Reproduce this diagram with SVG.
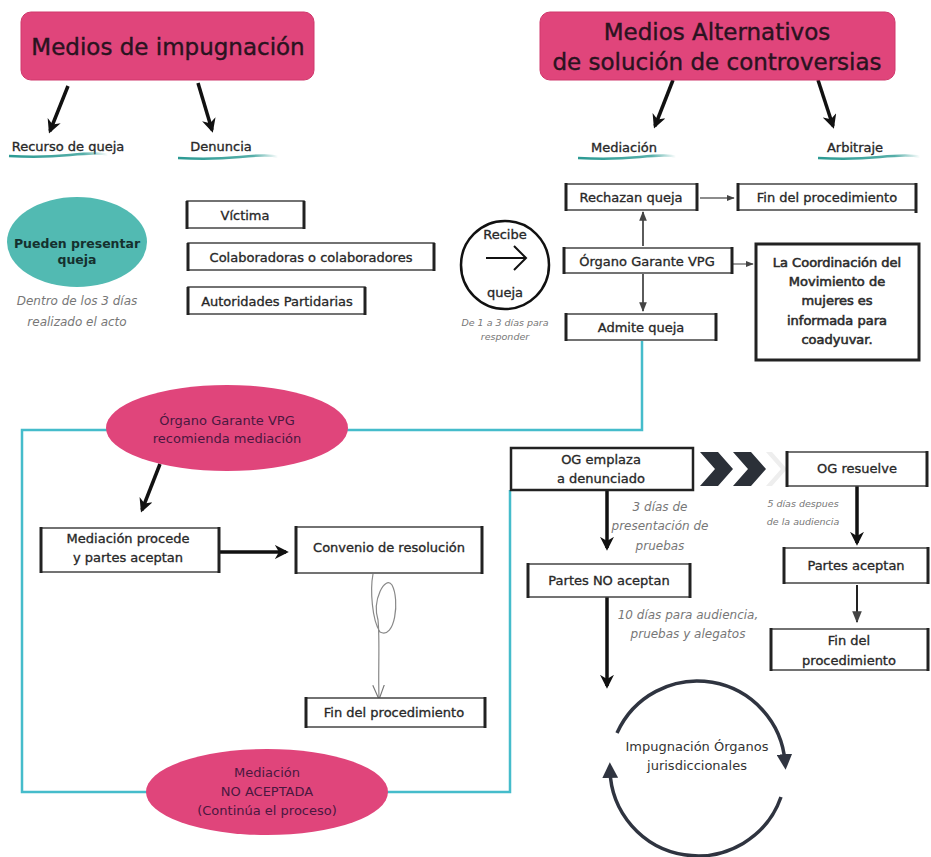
<svg xmlns="http://www.w3.org/2000/svg" width="931" height="857" viewBox="0 0 931 857">
<defs>
<style>
text{font-family:"DejaVu Sans","Liberation Sans",sans-serif;fill:#222;}
.t{font-size:13px;text-anchor:middle;}
.title{font-size:23px;text-anchor:middle;fill:#2a1320;stroke:#2a1320;stroke-width:0.4;}
.it{font-style:italic;fill:#777;font-size:12px;text-anchor:middle;}
.sm{font-size:9.5px;}
.pk{fill:#4a1840;}
.md{stroke:#333;stroke-width:0.35;}
.box{fill:#fff;stroke:#444;stroke-width:1.5;}
.side{stroke:#222;stroke-width:3;}
.thick{stroke:#111;stroke-width:3.5;fill:none;}
.thin{stroke:#666;stroke-width:1.3;fill:none;}
.cy{stroke:#45bccb;stroke-width:2.5;fill:none;}
.cyc{stroke:#2f3440;stroke-width:3.5;fill:none;}
</style>
<marker id="ah" viewBox="0 0 10 10" refX="8" refY="5" markerWidth="4" markerHeight="4" orient="auto-start-reverse"><path d="M0,0 L10,5 L0,10 L3,5 Z" fill="#111"/></marker>
<marker id="ahs" viewBox="0 0 10 10" refX="9" refY="5" markerWidth="6" markerHeight="6" orient="auto"><path d="M0,1 L10,5 L0,9 Z" fill="#444"/></marker>
<marker id="ahc" viewBox="0 0 10 10" refX="5" refY="5" markerWidth="4.5" markerHeight="4.5" orient="auto"><path d="M0,0 L10,5 L0,10 Z" fill="#2f3440"/></marker>
<marker id="ahv" viewBox="0 0 10 10" refX="9" refY="5" markerWidth="12" markerHeight="12" orient="auto"><path d="M0,1 L10,5 L0,9" fill="none" stroke="#777" stroke-width="0.8"/></marker>
<linearGradient id="fade" x1="0" x2="1" y1="0" y2="0"><stop offset="0" stop-color="#2b9a93"/><stop offset="0.75" stop-color="#2b9a93" stop-opacity="0.8"/><stop offset="1" stop-color="#2b9a93" stop-opacity="0"/></linearGradient>
</defs>
<rect width="931" height="857" fill="#fff"/>

<g id="connectors">
<path class="cy" d="M642,341 V430 H22 V792 H510 V490"/>
<line class="thick" x1="68" y1="86" x2="50" y2="131" marker-end="url(#ah)"/>
<line class="thick" x1="198" y1="83" x2="212" y2="130" marker-end="url(#ah)"/>
<line class="thick" x1="673" y1="80" x2="655" y2="126" marker-end="url(#ah)"/>
<line class="thick" x1="818" y1="80" x2="833" y2="126" marker-end="url(#ah)"/>
<line class="thin" x1="700" y1="198" x2="734" y2="198" marker-end="url(#ahs)"/>
<line class="thin" x1="733" y1="264" x2="753" y2="264" marker-end="url(#ahs)"/>
<line stroke="#333" stroke-width="1.6" x1="643" y1="246" x2="643" y2="212" marker-end="url(#ahs)"/>
<line stroke="#333" stroke-width="1.6" x1="643" y1="274" x2="643" y2="311" marker-end="url(#ahs)"/>
<line class="thick" x1="160" y1="464" x2="142" y2="510" marker-end="url(#ah)"/>
<line class="thick" x1="220" y1="552" x2="286" y2="552" marker-end="url(#ah)"/>
<path d="M373,574 C370,590 372,620 380,632 C395,640 400,600 392,585 C385,575 372,600 378,620 C380,640 378,670 379,698" fill="none" stroke="#888" stroke-width="1.2" marker-end="url(#ahv)"/>
<line class="thick" x1="607" y1="490" x2="607" y2="548" marker-end="url(#ah)"/>
<line class="thick" x1="607" y1="597" x2="607" y2="686" marker-end="url(#ah)"/>
<line class="thick" x1="857" y1="486" x2="857" y2="543" marker-end="url(#ah)"/>
<line stroke="#222" stroke-width="2" x1="857" y1="585" x2="857" y2="622" marker-end="url(#ahs)"/>
<path d="M700,486 H718 L733,469 L718,452 H700 L715,469 Z M733,486 H751 L766,469 L751,452 H733 L748,469 Z" fill="#2b3038"/>
<path d="M766,486 H772 L787,469 L772,452 H766 L781,469 Z" fill="#eee"/>
</g>

<g id="title1"><rect x="21" y="12" width="293" height="68" rx="10" fill="#e0457b" stroke="#d0386c"/><text class="title" x="168" y="55">Medios de impugnación</text></g>
<g id="title2"><rect x="540" y="12" width="355" height="68" rx="10" fill="#e0457b" stroke="#d0386c"/><text class="title" x="717" y="40">Medios Alternativos</text><text class="title" x="717" y="70">de solución de controversias</text></g>

<g id="recurso"><text class="t md" x="68" y="151">Recurso de queja</text><path d="M9,156 Q40,158 70,155 T108,155" stroke="url(#fade)" stroke-width="2.5" fill="none"/></g>
<g id="denuncia"><text class="t md" x="221" y="151">Denuncia</text><path d="M178,158 Q210,160 240,157 T278,157" stroke="url(#fade)" stroke-width="2.5" fill="none"/></g>
<g id="mediacion"><text class="t md" x="624" y="152">Mediación</text><path d="M578,158 Q610,160 640,157 T676,157" stroke="url(#fade)" stroke-width="2.5" fill="none"/></g>
<g id="arbitraje"><text class="t md" x="855" y="152">Arbitraje</text><path d="M818,158 Q850,160 880,157 T920,157" stroke="url(#fade)" stroke-width="2.5" fill="none"/></g>

<g id="pueden"><ellipse cx="77" cy="242" rx="70" ry="45" fill="#52bab2"/><text class="t" x="77" y="248" style="font-weight:bold;fill:#15302e;font-size:12.5px">Pueden presentar</text><text class="t" x="77" y="264" style="font-weight:bold;fill:#15302e;font-size:12.5px">queja</text>
<text class="it" x="77" y="305">Dentro de los 3 días</text><text class="it" x="77" y="326">realizado el acto</text></g>

<g id="victima"><rect class="box" x="187" y="201" width="117" height="27"/><line class="side" x1="187" y1="201" x2="187" y2="229"/><line class="side" x1="304" y1="201" x2="304" y2="229"/><text class="t md" x="245" y="220">Víctima</text></g>
<g id="colab"><rect class="box" x="188" y="243" width="246" height="27"/><line class="side" x1="188" y1="243" x2="188" y2="271"/><line class="side" x1="434" y1="243" x2="434" y2="271"/><text class="t md" x="311" y="262">Colaboradoras o colaboradores</text></g>
<g id="autoridades"><rect class="box" x="188" y="287" width="177" height="27"/><line class="side" x1="188" y1="287" x2="188" y2="315"/><line class="side" x1="365" y1="287" x2="365" y2="315"/><text class="t md" x="277" y="306">Autoridades Partidarias</text></g>

<g id="recibe"><circle cx="505" cy="265" r="44" fill="#fff" stroke="#111" stroke-width="2.5"/><text class="t md" x="505" y="239">Recibe</text><text class="t md" x="505" y="297">queja</text><path d="M486,258 H526 M514,246 L526,258 L514,270" fill="none" stroke="#111" stroke-width="2"/>
<text class="it sm" x="505" y="326">De 1 a 3 días para</text><text class="it sm" x="505" y="340">responder</text></g>

<g id="rechazan"><rect class="box" x="566" y="184" width="131" height="26"/><line class="side" x1="566" y1="183" x2="566" y2="211"/><line class="side" x1="697" y1="183" x2="697" y2="211"/><text class="t md" x="631" y="202">Rechazan queja</text></g>
<g id="fin1"><rect class="box" x="738" y="184" width="178" height="26"/><line class="side" x1="738" y1="183" x2="738" y2="211"/><line class="side" x1="916" y1="183" x2="916" y2="213"/><text class="t md" x="827" y="202">Fin del procedimiento</text></g>
<g id="organo"><rect class="box" x="564" y="248" width="168" height="25"/><line class="side" x1="564" y1="247" x2="564" y2="274"/><line class="side" x1="732" y1="247" x2="732" y2="274"/><text class="t md" x="647" y="266">Órgano Garante VPG</text></g>
<g id="coordinacion"><rect x="756" y="244" width="163" height="116" fill="#fff" stroke="#222" stroke-width="3"/>
<text class="t md" x="837" y="267" style="stroke-width:0.6">La Coordinación del</text><text class="t md" x="837" y="286" style="stroke-width:0.6">Movimiento de</text><text class="t md" x="837" y="305" style="stroke-width:0.6">mujeres es</text><text class="t md" x="837" y="325" style="stroke-width:0.6">informada para</text><text class="t md" x="837" y="344" style="stroke-width:0.6">coadyuvar.</text></g>
<g id="admite"><rect class="box" x="566" y="314" width="150" height="26"/><line class="side" x1="566" y1="313" x2="566" y2="341"/><line class="side" x1="716" y1="313" x2="716" y2="341"/><text class="t md" x="641" y="332">Admite queja</text></g>

<g id="recomienda"><ellipse cx="227" cy="428" rx="121" ry="43" fill="#e0457b"/><text class="t pk" x="227" y="425">Órgano Garante VPG</text><text class="t pk" x="227" y="443">recomienda mediación</text></g>
<g id="procede"><rect class="box" x="41" y="528" width="178" height="44"/><line class="side" x1="41" y1="527" x2="41" y2="573"/><line class="side" x1="219" y1="527" x2="219" y2="573"/><text class="t md" x="128" y="543">Mediación procede</text><text class="t md" x="128" y="562">y partes aceptan</text></g>
<g id="convenio"><rect class="box" x="296" y="527" width="186" height="46"/><line class="side" x1="296" y1="526" x2="296" y2="574"/><line class="side" x1="482" y1="526" x2="482" y2="574"/><text class="t md" x="389" y="552">Convenio de resolución</text></g>
<g id="fin2"><rect class="box" x="306" y="698" width="179" height="29"/><line class="side" x1="306" y1="697" x2="306" y2="728"/><line class="side" x1="485" y1="697" x2="485" y2="728"/><text class="t md" x="394" y="717">Fin del procedimiento</text></g>
<g id="noaceptada"><ellipse cx="267" cy="792" rx="121" ry="43" fill="#e0457b"/><text class="t pk" x="267" y="777">Mediación</text><text class="t pk" x="267" y="796">NO ACEPTADA</text><text class="t pk" x="267" y="815">(Continúa el proceso)</text></g>

<g id="emplaza"><rect x="511" y="448" width="182" height="42" fill="#fff" stroke="#222" stroke-width="2.5"/><text class="t md" x="601" y="464">OG emplaza</text><text class="t md" x="601" y="483">a denunciado</text></g>
<g id="resuelve"><rect class="box" x="787" y="452" width="140" height="34"/><line class="side" x1="787" y1="451" x2="787" y2="487"/><line class="side" x1="927" y1="451" x2="927" y2="487"/><text class="t md" x="857" y="473">OG resuelve</text></g>
<g id="lbl3"><text class="it" x="660" y="511">3 días de</text><text class="it" x="660" y="530">presentación de</text><text class="it" x="660" y="550">pruebas</text></g>
<g id="lbl5"><text class="it sm" x="803" y="507">5 días despues</text><text class="it sm" x="803" y="525">de la audiencia</text></g>
<g id="noaceptan"><rect class="box" x="528" y="564" width="162" height="33"/><line class="side" x1="528" y1="563" x2="528" y2="598"/><line class="side" x1="690" y1="563" x2="690" y2="598"/><text class="t md" x="609" y="585">Partes NO aceptan</text></g>
<g id="lbl10"><text class="it" x="688" y="619">10 días para audiencia,</text><text class="it" x="688" y="638">pruebas y alegatos</text></g>
<g id="aceptan"><rect class="box" x="784" y="548" width="144" height="35"/><line class="side" x1="784" y1="547" x2="784" y2="584"/><line class="side" x1="928" y1="547" x2="928" y2="584"/><text class="t md" x="856" y="570">Partes aceptan</text></g>
<g id="fin3"><rect class="box" x="771" y="629" width="157" height="41"/><line class="side" x1="771" y1="628" x2="771" y2="671"/><line class="side" x1="928" y1="628" x2="928" y2="671"/><text class="t md" x="849" y="645">Fin del</text><text class="t md" x="849" y="665">procedimiento</text></g>

<g id="impugnacion">
<path class="cyc" d="M617,733 A88,88 0 0 1 785,762" marker-end="url(#ahc)"/>
<path class="cyc" d="M781,797 A88,88 0 0 1 610,770" marker-end="url(#ahc)"/>
<text class="t" x="697" y="751" style="fill:#333">Impugnación Órganos</text><text class="t" x="697" y="770" style="fill:#333">jurisdiccionales</text></g>
</svg>
